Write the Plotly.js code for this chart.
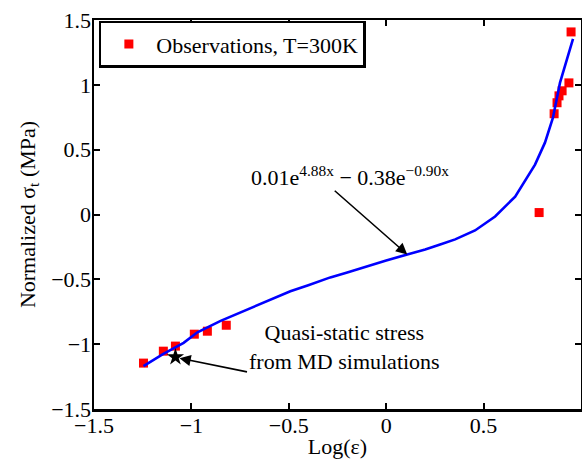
<!DOCTYPE html>
<html>
<head>
<meta charset="utf-8">
<script src="https://cdn.plot.ly/plotly-3.0.1.min.js"></script>
<style>
  html, body { margin: 0; padding: 0; background: #fff; }
  #chart { width: 582px; height: 459px; }
</style>
</head>
<body>
<div id="chart"></div>
<script>
// Observed normalized stress vs log strain rate
const obsX = [-1.246, -1.144, -1.082, -0.985, -0.918, -0.821, 0.785, 0.862, 0.877, 0.887, 0.903, 0.938, 0.949];
const obsY = [-1.146, -1.054, -1.015, -0.923, -0.900, -0.854, 0.015, 0.777, 0.862, 0.915, 0.954, 1.015, 1.408];

// Fitted curve, sampled
const fitX = [-1.246, -1.144, -1.04, -0.969, -0.85, -0.713, -0.6, -0.492, -0.4, -0.287, -0.2, -0.118, 0.0, 0.108, 0.2, 0.277, 0.354, 0.456, 0.559, 0.662, 0.764, 0.815, 0.856, 0.892, 0.959];
const fitY = [-1.169, -1.075, -0.99, -0.908, -0.82, -0.731, -0.66, -0.592, -0.545, -0.485, -0.447, -0.408, -0.355, -0.308, -0.27, -0.231, -0.192, -0.123, -0.015, 0.138, 0.385, 0.554, 0.746, 1.015, 1.354];

// Quasi-static stress from MD simulations
const mdX = [-1.082];
const mdY = [-1.10];

// Points the arrows point at
const fitArrowX = 0.108, fitArrowY = -0.308;
const mdArrowX = -1.061, mdArrowY = -1.108;

const xTicks = [-1.5, -1, -0.5, 0, 0.5, 1];
const xTickText = ['\u22121.5', '\u22121', '\u22120.5', '0', '0.5', '1'];
const yTicks = [-1.5, -1, -0.5, 0, 0.5, 1, 1.5];
const yTickText = ['\u22121.5', '\u22121', '\u22120.5', '0', '0.5', '1', '1.5'];

const serif = 'Liberation Serif, Times New Roman, serif';
const fs = 22;

const traces = [
  {
    x: obsX, y: obsY, type: 'scatter', mode: 'markers',
    name: 'Observations, T=300K',
    marker: { symbol: 'square', color: '#ff0000', size: 9 }
  },
  {
    x: fitX, y: fitY, type: 'scatter', mode: 'lines',
    line: { color: '#0000ff', width: 2.6 },
    showlegend: false
  },
  {
    x: mdX, y: mdY, type: 'scatter', mode: 'markers',
    marker: { symbol: 'star', color: '#000000', size: 13 },
    showlegend: false
  }
];

const axisCommon = {
  showline: true, linecolor: '#000', linewidth: 2.5, mirror: 'ticks',
  ticks: 'inside', ticklen: 6, tickwidth: 2, tickcolor: '#000',
  showgrid: false, zeroline: false,
  tickfont: { family: serif, size: fs, color: '#000' }
};

const layout = {
  width: 582, height: 459,
  margin: { l: 94, r: 1, t: 20, b: 50 },
  paper_bgcolor: '#fff', plot_bgcolor: '#fff',
  font: { family: serif, size: fs, color: '#000' },
  xaxis: Object.assign({}, axisCommon, {
    range: [-1.5, 1], tickvals: xTicks, ticktext: xTickText,
    ticklabelstandoff: -5,
    title: { text: 'Log(\u03b5)', font: { family: serif, size: fs }, standoff: 0 }
  }),
  yaxis: Object.assign({}, axisCommon, {
    range: [-1.5, 1.5], tickvals: yTicks, ticktext: yTickText,
    ticklabelstandoff: -4,
    title: { text: 'Normalized \u03c3<sub>t</sub> (MPa)', font: { family: serif, size: fs }, standoff: 10 }
  }),
  showlegend: true,
  legend: {
    x: 0.01, y: 0.998, xanchor: 'left', yanchor: 'top',
    bordercolor: '#000', borderwidth: 2.5, bgcolor: '#fff',
    itemwidth: 45,
    font: { family: serif, size: fs, color: '#000' }
  },
  annotations: [
    {
      x: fitArrowX, y: fitArrowY, xref: 'x', yref: 'y',
      ax: -74, ay: -65, showarrow: true, text: '',
      arrowhead: 2, arrowsize: 1.4, arrowwidth: 1.6, arrowcolor: '#000'
    },
    {
      x: 350, y: 176, xref: 'paper', yref: 'paper', showarrow: false,
      text: '0.01e<sup>4.88x</sup> \u2212 0.38e<sup>\u22120.90x</sup>',
      font: { family: serif, size: fs, color: '#000' }
    },
    {
      x: mdArrowX, y: mdArrowY, xref: 'x', yref: 'y',
      ax: 69, ay: 14, showarrow: true, text: '',
      arrowhead: 2, arrowsize: 1.4, arrowwidth: 1.6, arrowcolor: '#000'
    },
    {
      x: 344, y: 376, xref: 'paper', yref: 'paper', showarrow: false,
      text: 'Quasi-static stress<br>from MD simulations',
      font: { family: serif, size: fs, color: '#000' }
    }
  ]
};

// place free text by pixel position inside the plot frame
const plotL = 94, plotW = 582 - 94 - 1, plotT = 20, plotH = 459 - 20 - 50;
layout.annotations.forEach(a => {
  if (a.xref === 'paper') {
    a.x = (a.x - plotL) / plotW;
    a.y = 1 - (a.y - plotT) / plotH;
  }
});

Plotly.newPlot('chart', traces, layout, { displayModeBar: false, staticPlot: true });
</script>
</body>
</html>
